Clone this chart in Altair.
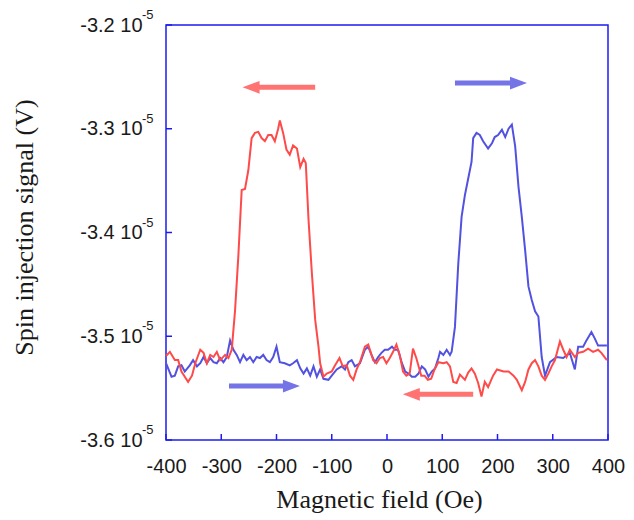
import altair as alt
import pandas as pd

# Magnetic field (Oe) and spin injection signal (units of 1e-5 V)
blue_field = [-400, -390, -384, -378, -372, -366, -357, -351, -344, -338, -332, -326, -320, -314, -308, -302,
              -296, -290, -284, -278, -272, -266, -260, -254, -248, -242, -236, -230, -224, -218, -212, -206,
              -200, -194, -185, -176, -170, -163, -157, -151, -145, -139, -133, -127, -121, -115, -106, -100,
              -91, -82, -76, -70, -64, -58, -49, -40, -34, -28, -22, -16, -10, -4, 2, 9, 14, 20, 27, 33, 39,
              45, 51, 57, 63, 69, 75, 81, 87, 93, 96, 102, 108, 114, 117, 123, 129, 135, 141, 147, 153, 156,
              162, 168, 174, 183, 190, 195, 201, 208, 214, 220, 226, 232, 238, 244, 250, 256, 262, 268, 274,
              280, 286, 295, 307, 319, 331, 340, 346, 355, 361, 370, 376, 382, 388, 398]
blue_signal = [-3.526, -3.539, -3.538, -3.529, -3.528, -3.534, -3.528, -3.523, -3.529, -3.526, -3.520, -3.526,
               -3.521, -3.525, -3.526, -3.521, -3.525, -3.520, -3.504, -3.513, -3.518, -3.525, -3.518, -3.523,
               -3.520, -3.525, -3.520, -3.521, -3.518, -3.523, -3.525, -3.520, -3.510, -3.525, -3.526, -3.528,
               -3.526, -3.523, -3.531, -3.536, -3.531, -3.538, -3.529, -3.539, -3.532, -3.541, -3.542, -3.538,
               -3.532, -3.529, -3.532, -3.525, -3.523, -3.529, -3.526, -3.513, -3.510, -3.518, -3.525, -3.520,
               -3.516, -3.513, -3.513, -3.510, -3.513, -3.513, -3.526, -3.534, -3.536, -3.539, -3.539, -3.536,
               -3.529, -3.532, -3.539, -3.534, -3.531, -3.521, -3.515, -3.518, -3.513, -3.518, -3.515, -3.491,
               -3.430, -3.385, -3.364, -3.348, -3.332, -3.309, -3.304, -3.306, -3.312, -3.319, -3.314, -3.308,
               -3.306, -3.301, -3.308, -3.300, -3.296, -3.317, -3.356, -3.385, -3.417, -3.452, -3.465, -3.476,
               -3.481, -3.520, -3.538, -3.525, -3.520, -3.521, -3.516, -3.532, -3.510, -3.510, -3.504, -3.496,
               -3.502, -3.509, -3.509, -3.509]

red_field = [-400, -393, -384, -378, -372, -366, -360, -353, -347, -338, -332, -326, -320, -314, -308, -302,
             -293, -287, -281, -275, -269, -263, -257, -251, -245, -239, -233, -227, -221, -215, -209, -203,
             -197, -194, -188, -182, -176, -170, -163, -157, -151, -147, -142, -136, -130, -124, -121, -115,
             -109, -100, -95, -86, -80, -73, -67, -61, -55, -49, -40, -34, -25, -19, -13, -7, -1, 5, 11, 17,
             23, 29, 35, 41, 47, 53, 62, 68, 74, 80, 86, 93, 102, 108, 114, 120, 126, 132, 141, 147, 153,
             159, 165, 171, 177, 183, 192, 199, 211, 220, 229, 235, 244, 250, 256, 262, 268, 274, 280, 286,
             292, 298, 304, 313, 319, 325, 331, 340, 346, 355, 364, 373, 382, 388, 398]
red_signal = [-3.519, -3.515, -3.523, -3.523, -3.534, -3.539, -3.544, -3.538, -3.526, -3.513, -3.516, -3.526,
              -3.518, -3.520, -3.515, -3.523, -3.518, -3.521, -3.513, -3.475, -3.422, -3.359, -3.358, -3.340,
              -3.309, -3.304, -3.303, -3.309, -3.312, -3.306, -3.306, -3.312, -3.300, -3.292, -3.304, -3.320,
              -3.325, -3.316, -3.319, -3.337, -3.329, -3.333, -3.388, -3.439, -3.484, -3.510, -3.526, -3.539,
              -3.536, -3.534, -3.529, -3.521, -3.529, -3.528, -3.538, -3.542, -3.532, -3.525, -3.510, -3.508,
              -3.523, -3.526, -3.521, -3.520, -3.526, -3.521, -3.515, -3.508, -3.518, -3.534, -3.538, -3.536,
              -3.512, -3.521, -3.538, -3.538, -3.542, -3.541, -3.532, -3.525, -3.526, -3.525, -3.529, -3.544,
              -3.545, -3.537, -3.542, -3.535, -3.531, -3.536, -3.545, -3.558, -3.544, -3.549, -3.538, -3.532,
              -3.534, -3.534, -3.538, -3.542, -3.552, -3.544, -3.532, -3.526, -3.523, -3.529, -3.538, -3.542,
              -3.536, -3.529, -3.523, -3.505, -3.513, -3.520, -3.513, -3.520, -3.516, -3.515, -3.512, -3.515,
              -3.513, -3.516, -3.523]

x_ticks = [-400, -300, -200, -100, 0, 100, 200, 300, 400]
y_ticks = [-3.6, -3.5, -3.4, -3.3, -3.2]

arrow_tail = [-130, 123, -286, 156]
arrow_head = [-246, 238, -173, 44]
arrow_y = [-3.260, -3.256, -3.548, -3.556]
arrow_dir = ["left", "right", "right", "left"]
arrow_color = ["#ff7373", "#7474e6", "#7474e6", "#ff7373"]

AXIS_BLUE = "#1c1cf0"
TEXT = "#1a1a1a"

blue_df = pd.DataFrame({"x": blue_field, "y": blue_signal})
red_df = pd.DataFrame({"x": red_field, "y": red_signal})
xt_df = pd.DataFrame({"x": x_ticks})
yt_df = pd.DataFrame({"y": y_ticks})
arr_df = pd.DataFrame({"x": arrow_tail, "x2": arrow_head, "y": arrow_y,
                       "dir": arrow_dir, "c": arrow_color})

xs = alt.Scale(domain=[-400, 400], nice=False, zero=False)
ys = alt.Scale(domain=[-3.6, -3.2], nice=False, zero=False)

x_axis = alt.Axis(values=x_ticks, labelExpr="'' + datum.value", labelFont="Liberation Sans",
                  labelFontSize=20, labelColor=TEXT, labelPadding=16, labelFlush=False,
                  ticks=False, domain=False, grid=False,
                  titleFont="Liberation Serif", titleFontSize=26,
                  titleFontWeight="normal", titleColor=TEXT, titleX=213, titleY=67,
                  titleBaseline="alphabetic", titleAlign="center")
y_axis = alt.Axis(values=y_ticks, labelExpr="datum.value + ' 10'", labelFont="Liberation Sans",
                  labelFontSize=20, labelColor=TEXT, labelPadding=24, labelFlush=False,
                  ticks=False, domain=False, grid=False,
                  titleFont="Liberation Serif", titleFontSize=26,
                  titleFontWeight="normal", titleColor=TEXT, titleAngle=-90, titleX=-134, titleY=202,
                  titleBaseline="alphabetic", titleAlign="center")

XT = "Magnetic field (Oe)"
YT = "Spin injection signal (V)"


def X(field):
    return alt.X(field, type="quantitative", scale=xs, axis=x_axis, title=XT)


def Y(field):
    return alt.Y(field, type="quantitative", scale=ys, axis=y_axis, title=YT)


blue_line = alt.Chart(blue_df).mark_line(color="#5252e0", strokeWidth=2).encode(x=X("x"), y=Y("y"))
red_line = alt.Chart(red_df).mark_line(color="#ff4a4a", strokeWidth=2).encode(x=X("x"), y=Y("y"))

x_tick_marks = alt.Chart(xt_df).mark_rule(color=AXIS_BLUE, strokeWidth=1.5).encode(
    x=X("x"), y=alt.value(415), y2=alt.value(409))
y_tick_marks = alt.Chart(yt_df).mark_rule(color=AXIS_BLUE, strokeWidth=1.5).encode(
    y=Y("y"), x=alt.value(0), x2=alt.value(6))

sup = alt.Chart(yt_df).mark_text(align="left", baseline="alphabetic", dy=-6, fontSize=13,
                                 font="Liberation Sans", color=TEXT).encode(
    y=Y("y"), x=alt.value(-24), text=alt.value("-5"))

shafts = alt.Chart(arr_df).mark_rule(strokeWidth=5).encode(
    x=X("x"), x2="x2:Q", y=Y("y"), color=alt.Color("c:N", scale=None))
heads_r = alt.Chart(arr_df).transform_filter(alt.datum.dir == "right").mark_point(
    shape="M -1 -0.75 L 1 0 L -1 0.75 Z", filled=True, size=289, opacity=1).encode(
    x=X("x2"), y=Y("y"), color=alt.Color("c:N", scale=None))
heads_l = alt.Chart(arr_df).transform_filter(alt.datum.dir == "left").mark_point(
    shape="M 1 -0.75 L -1 0 L 1 0.75 Z", filled=True, size=289, opacity=1).encode(
    x=X("x2"), y=Y("y"), color=alt.Color("c:N", scale=None))

chart = alt.layer(
    blue_line, red_line, x_tick_marks, y_tick_marks, sup, shafts, heads_r, heads_l
).properties(
    width=442, height=415,
    autosize=alt.AutoSizeParams(type="none"),
    padding={"left": 166, "top": 25, "right": 26, "bottom": 80},
    background="white",
).configure_view(stroke=AXIS_BLUE, strokeWidth=1.5)

chart.save("out.html", embed_options={"renderer": "svg", "actions": False})
